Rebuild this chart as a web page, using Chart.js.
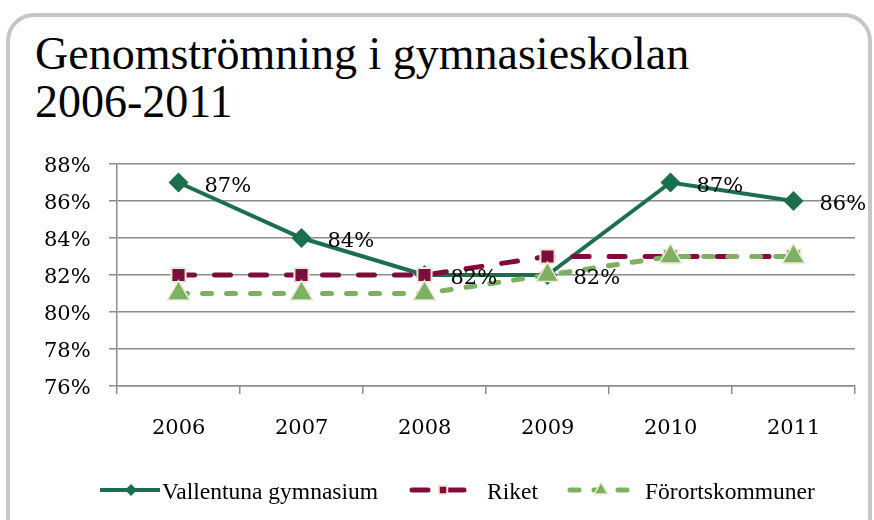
<!DOCTYPE html>
<html>
<head>
<meta charset="utf-8">
<script src="https://cdn.jsdelivr.net/npm/chart.js@4.4.1/dist/chart.umd.min.js"></script>
<style>
  html, body { margin: 0; padding: 0; background: #ffffff; }
  body { width: 874px; height: 520px; position: relative; overflow: hidden; }
  .card {
    position: absolute; left: 6px; top: 13px; width: 858px; height: 540px;
    border: 4px solid #c6c6c6; border-radius: 28px; background: #fff;
  }
  .title {
    position: absolute; left: 35px; top: 30px;
    font-family: "Liberation Serif", serif; font-size: 46px; line-height: 48px;
    color: #000;
  }
  #chart { position: absolute; left: 0; top: 0; }
  .lbl {
    position: absolute; white-space: nowrap; color: #000;
    font-family: "DejaVu Serif", serif; font-size: 21px; line-height: 24px; height: 24px;
  }
  .leg {
    position: absolute; white-space: nowrap; color: #000;
    font-family: "Liberation Serif", serif; font-size: 23.5px; line-height: 26px; height: 26px;
  }
</style>
</head>
<body>
<div class="card"></div>
<div class="title">Genomströmning i gymnasieskolan<br>2006-2011</div>
<canvas id="chart" width="874" height="520"></canvas>
<div id="labels"></div>
<script>
// Data (percent)
const years = ['2006', '2007', '2008', '2009', '2010', '2011'];
const vallentuna = [87, 84, 82, 82, 87, 86];
const riket = [82, 82, 82, 83, 83, 83];
const fororts = [81, 81, 81, 82, 83, 83];
const seriesNames = ['Vallentuna gymnasium', 'Riket', 'Förortskommuner'];
const yMin = 76, yMax = 88, yStep = 2;

const gridColor = '#8c8c8c';
const legendY = 490;
const legendIconX = [100, 412, 570];
const legendTextX = [162, 487, 645];

// Line + marker samples for the legend (text is added as HTML)
const legendIcons = {
    id: 'legendIcons',
    afterDraw(chart) {
        const ctx = chart.ctx;
        ctx.save();
        chart.data.datasets.forEach((ds, i) => {
            const x = legendIconX[i];
            ctx.beginPath();
            ctx.setLineDash(ds.borderDash || []);
            ctx.lineCap = ds.borderCapStyle || 'butt';
            ctx.lineWidth = ds.borderWidth;
            ctx.strokeStyle = ds.borderColor;
            ctx.moveTo(x, legendY);
            ctx.lineTo(x + 60, legendY);
            ctx.stroke();
            ctx.setLineDash([]);
            ctx.lineCap = 'butt';
            ctx.fillStyle = ds.pointBackgroundColor;
            ctx.strokeStyle = ds.pointBorderColor;
            ctx.lineWidth = ds.pointBorderWidth;
            Chart.helpers.drawPoint(ctx, {
                pointStyle: ds.pointStyle,
                radius: ds.pointRadius * 0.6,
                borderWidth: ds.pointBorderWidth
            }, x + 31, legendY);
        });
        ctx.restore();
    }
};

const chart = new Chart(document.getElementById('chart'), {
    type: 'line',
    data: {
        labels: years,
        datasets: [{
            label: seriesNames[0],
            data: vallentuna,
            borderColor: '#1b6f4f',
            borderWidth: 4,
            pointStyle: 'rectRot',
            pointRadius: 10,
            pointBackgroundColor: '#1b6f4f',
            pointBorderColor: '#1b6f4f',
            pointBorderWidth: 0,
            order: 3
        }, {
            label: seriesNames[1],
            data: riket,
            borderColor: '#7e0c3c',
            borderWidth: 5,
            borderDash: [16, 20],
            borderCapStyle: 'round',
            pointStyle: 'rect',
            pointRadius: 10,
            pointBackgroundColor: '#7e0c3c',
            pointBorderColor: '#ecebd6',
            pointBorderWidth: 2,
            order: 2
        }, {
            label: seriesNames[2],
            data: fororts,
            borderColor: '#7db062',
            borderWidth: 5,
            borderDash: [9, 15],
            borderCapStyle: 'round',
            pointStyle: 'triangle',
            pointRadius: 13,
            pointBackgroundColor: '#7db062',
            pointBorderColor: '#ecebd6',
            pointBorderWidth: 1.5,
            order: 1
        }]
    },
    options: {
        responsive: false,
        animation: false,
        layout: { padding: { top: 164, right: 19, left: 0, bottom: 0 } },
        plugins: {
            legend: { display: false },
            tooltip: { enabled: false }
        },
        scales: {
            x: {
                offset: true,
                afterFit: (s) => { s.height = 134; },
                grid: {
                    offset: true,
                    drawOnChartArea: false,
                    drawTicks: true,
                    tickLength: 8,
                    color: gridColor,
                    lineWidth: 1.5
                },
                border: { color: gridColor, width: 1.5 },
                ticks: { display: false }
            },
            y: {
                min: yMin,
                max: yMax,
                afterFit: (s) => { s.width = 117; },
                grid: {
                    color: gridColor,
                    lineWidth: 1.5,
                    tickLength: 8
                },
                border: { color: gridColor, width: 1.5 },
                ticks: { display: false, stepSize: yStep }
            }
        }
    },
    plugins: [legendIcons]
});

// Text layer, positioned from the chart's own scales
const layer = document.getElementById('labels');
function addText(cls, text, x, y, align) {
    const d = document.createElement('div');
    d.className = cls;
    d.textContent = text;
    layer.appendChild(d);
    const w = d.offsetWidth, h = d.offsetHeight;
    const left = align === 'right' ? x - w : align === 'center' ? x - w / 2 : x;
    d.style.left = left + 'px';
    d.style.top = (y - h / 2) + 'px';
}

const xs = chart.scales.x, ys = chart.scales.y;
ys.ticks.forEach(t => {
    addText('lbl', t.value + '%', ys.left + ys.width - 26, ys.getPixelForValue(t.value) + 1, 'right');
});
years.forEach((yr, i) => {
    addText('lbl', yr, xs.getPixelForValue(i), xs.top + 41, 'center');
});
chart.getDatasetMeta(0).data.forEach((pt, i) => {
    addText('lbl', vallentuna[i] + '%', pt.x + 26, pt.y + 2, 'left');
});
seriesNames.forEach((name, i) => {
    addText('leg', name, legendTextX[i], legendY + 1, 'left');
});
</script>
</body>
</html>
